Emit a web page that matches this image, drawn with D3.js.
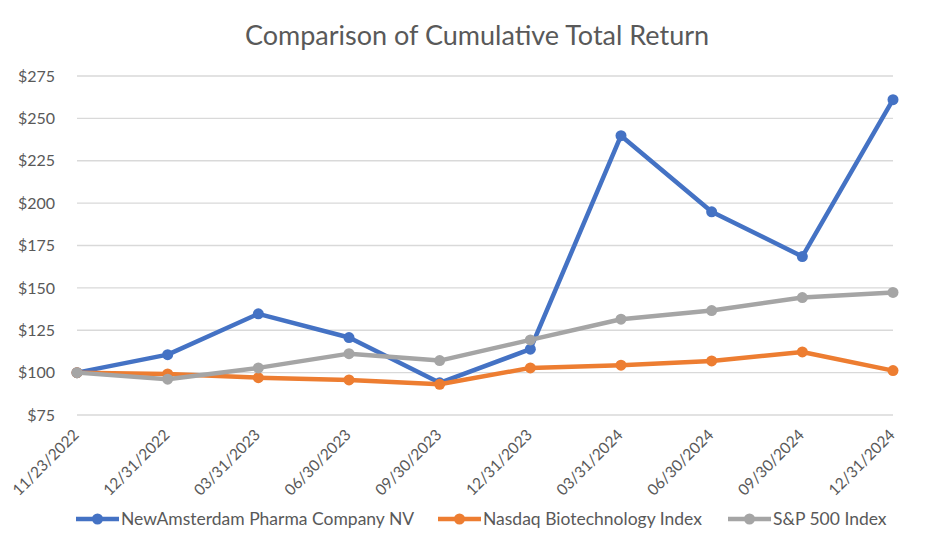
<!DOCTYPE html>
<html>
<head>
<meta charset="utf-8">
<script src="https://cdn.jsdelivr.net/npm/d3@7"></script>
<style>
  body { margin: 0; background: #fff; }
  text { font-family: Lato, "Open Sans", sans-serif; }
</style>
</head>
<body>
<div id="chart"></div>
<script>
// dates on the x axis
var dates = ["11/23/2022", "12/31/2022", "03/31/2023", "06/30/2023", "09/30/2023",
  "12/31/2023", "03/31/2024", "06/30/2024", "09/30/2024", "12/31/2024"];

var newAmsterdam = [100, 110.6, 134.7, 120.7, 94, 113.8, 239.8, 194.9, 168.5, 261];
var nasdaqBio = [100, 99.2, 97, 95.7, 93.1, 102.8, 104.4, 106.9, 112.2, 101.2];
var sp500 = [100, 96.1, 102.8, 111.2, 107.1, 119.3, 131.5, 136.6, 144.3, 147.3];

var yTicks = [75, 100, 125, 150, 175, 200, 225, 250, 275];

var seriesNames = ["NewAmsterdam Pharma Company NV", "Nasdaq Biotechnology Index", "S&P 500 Index"];
var colors = ["#4472C4", "#ED7D31", "#A5A5A5"];

var width = 952, height = 550;
var margin = { top: 76, right: 59, bottom: 135, left: 77 };

var svg = d3.select("#chart").append("svg")
  .attr("width", width)
  .attr("height", height);

var x = d3.scalePoint()
  .domain(dates)
  .range([margin.left, width - margin.right]);

var y = d3.scaleLinear()
  .domain([75, 275])
  .range([height - margin.bottom, margin.top]);

// title
svg.append("text")
  .attr("x", 477)
  .attr("y", 45)
  .attr("text-anchor", "middle")
  .attr("font-size", 27)
  .attr("fill", "#595959")
  .text("Comparison of Cumulative Total Return");

// grid
svg.append("g")
  .selectAll("line")
  .data(yTicks)
  .join("line")
  .attr("x1", margin.left)
  .attr("x2", width - margin.right)
  .attr("y1", d => y(d))
  .attr("y2", d => y(d))
  .attr("stroke", "#d9d9d9")
  .attr("stroke-width", 1.3);

// y axis labels
var yAxis = d3.axisLeft(y).tickValues(yTicks).tickFormat(d => "$" + d).tickSize(0).tickPadding(22);
var yg = svg.append("g").attr("transform", "translate(" + margin.left + ",0)").call(yAxis);
yg.select(".domain").remove();
yg.selectAll("text").attr("font-size", 16).attr("fill", "#595959").attr("font-family", "Lato, sans-serif");

// x axis labels, rotated
svg.append("g")
  .selectAll("text")
  .data(dates)
  .join("text")
  .attr("transform", d => "translate(" + (x(d) - 1) + "," + 432 + ") rotate(-45)")
  .attr("text-anchor", "end")
  .attr("dy", "0.35em")
  .attr("font-size", 15.5)
  .attr("fill", "#595959")
  .text(d => d);

var allSeries = [newAmsterdam, nasdaqBio, sp500];

var line = d3.line()
  .x((d, i) => x(dates[i]))
  .y(d => y(d));

allSeries.forEach(function (vals, k) {
  var g = svg.append("g");
  g.append("path")
    .datum(vals)
    .attr("d", line)
    .attr("fill", "none")
    .attr("stroke", colors[k])
    .attr("stroke-width", 4.5)
    .attr("stroke-linejoin", "round");
  g.selectAll("circle")
    .data(vals)
    .join("circle")
    .attr("cx", (d, i) => x(dates[i]))
    .attr("cy", d => y(d))
    .attr("r", 5.5)
    .attr("fill", colors[k]);
});

// legend
var legendX = [76, 438, 728];
var legend = svg.append("g");
seriesNames.forEach(function (name, k) {
  var lg = legend.append("g").attr("transform", "translate(" + legendX[k] + ",519)");
  lg.append("line").attr("x1", 0).attr("x2", 43).attr("stroke", colors[k]).attr("stroke-width", 4.5);
  lg.append("circle").attr("cx", 21.5).attr("r", 5.5).attr("fill", colors[k]);
  lg.append("text")
    .attr("x", 45)
    .attr("dy", "0.35em")
    .attr("font-size", 17.5)
    .attr("fill", "#595959")
    .text(name);
});
</script>
</body>
</html>
